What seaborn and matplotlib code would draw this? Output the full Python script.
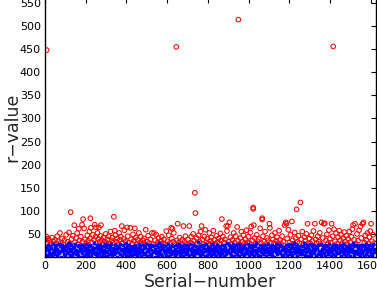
import numpy as np
import matplotlib
matplotlib.use('Agg')
import matplotlib.pyplot as plt
import seaborn as sns

# blue series: one r-value read for every 3rd serial number
blue_value = [
    12, 5, 22, 18, 3, 27, 9, 15, 24, 7, 19, 2, 28, 11, 16, 6, 21, 13, 25, 4, 17, 10, 29, 8, 14, 23, 1, 20, 26, 12,
    18, 6, 24, 3, 15, 27, 9, 21, 11, 30, 5, 17, 13, 25, 2, 19, 8, 22, 14, 28, 7, 16, 10, 23, 4, 26, 12, 20, 1, 18,
    9, 25, 14, 3, 21, 16, 29, 7, 12, 19, 5, 24, 10, 27, 15, 2, 22, 8, 18, 13, 31, 6, 20, 11, 26, 4, 17, 23, 9, 14,
    27, 3, 19, 12, 8, 24, 16, 5, 29, 21, 10, 14, 2, 25, 18, 7, 22, 13, 28, 4, 11, 20, 15, 6, 26, 9, 17, 23, 1, 19,
    10, 22, 6, 28, 15, 3, 18, 25, 12, 8, 20, 14, 30, 5, 24, 11, 17, 2, 27, 9, 21, 16, 4, 23, 13, 19, 7, 26, 11, 15,
    4, 20, 13, 29, 8, 17, 24, 2, 15, 11, 26, 6, 19, 22, 9, 28, 14, 3, 18, 12, 25, 7, 21, 16, 5, 27, 10, 23, 14, 1,
    17, 8, 25, 13, 4, 21, 30, 10, 16, 6, 23, 19, 2, 27, 12, 15, 9, 24, 5, 20, 14, 28, 11, 3, 18, 22, 7, 26, 13, 9,
    23, 12, 2, 18, 27, 7, 14, 21, 10, 29, 5, 16, 24, 8, 19, 13, 3, 26, 11, 20, 6, 25, 15, 9, 22, 17, 4, 28, 12, 16,
    6, 19, 26, 11, 3, 24, 15, 8, 21, 13, 32, 9, 17, 4, 23, 14, 27, 7, 20, 10, 25, 2, 18, 12, 29, 5, 16, 22, 8, 13,
    21, 4, 15, 28, 10, 18, 6, 24, 13, 2, 20, 16, 26, 8, 11, 23, 5, 19, 14, 27, 9, 17, 3, 25, 12, 22, 7, 30, 15, 10,
    14, 26, 8, 19, 23, 5, 12, 29, 17, 3, 22, 10, 15, 25, 6, 20, 13, 28, 2, 18, 11, 24, 16, 7, 21, 4, 27, 9, 19, 12,
    8, 17, 28, 4, 21, 13, 25, 10, 6, 19, 27, 14, 2, 23, 16, 9, 30, 12, 5, 20, 15, 26, 3, 18, 11, 24, 7, 22, 13, 17,
    25, 11, 3, 20, 16, 29, 7, 13, 22, 9, 18, 4, 26, 14, 21, 1, 17, 24, 10, 28, 6, 15, 19, 12, 27, 8, 23, 5, 16, 20,
    3, 22, 14, 9, 27, 18, 5, 24, 12, 16, 28, 7, 20, 11, 25, 4, 19, 13, 31, 8, 22, 15, 2, 26, 10, 17, 21, 6, 14, 24,
    16, 7, 23, 12, 30, 4, 19, 10, 26, 14, 2, 21, 17, 8, 28, 13, 5, 24, 11, 18, 25, 9, 15, 3, 22, 20, 6, 27, 12, 10,
    11, 28, 5, 17, 13, 23, 9, 20, 3, 26, 15, 12, 24, 6, 19, 29, 10, 16, 2, 22, 14, 7, 27, 18, 4, 21, 13, 25, 8, 19,
    20, 9, 16, 26, 2, 14, 22, 11, 28, 6, 18, 13, 24, 4, 21, 15, 8, 27, 12, 3, 19, 25, 10, 17, 30, 5, 23, 14, 9, 26,
    13, 24, 7, 19, 11, 27, 4, 16, 21, 9, 25, 14, 3, 22, 18, 6, 28, 10, 15, 20, 2, 26, 12, 17, 8, 23, 5, 29, 11, 18,
]
blue_serial = np.arange(len(blue_value)) * 3 + 1

# red series: (serial, r-value)
red_serial = [
    3, 8, 8, 12, 16, 22, 27, 35, 41, 48, 55, 60, 66, 73, 78, 84, 90, 95,
    104, 110, 118, 121, 126, 131, 137, 144, 148, 153, 158, 162, 166, 170, 176, 182, 185, 187, 192, 196,
    203, 208, 212, 218, 221, 223, 225, 231, 236, 240, 244, 248, 250, 254, 258, 262, 265, 269, 272, 275, 279, 284, 288, 293, 298,
    303, 308, 312, 318, 322, 327, 331, 334, 338, 342, 346, 350, 355, 360, 364, 368, 372, 377, 381, 386, 390, 395,
    403, 407, 412, 419, 423, 428, 432, 437, 441, 446, 450, 455, 461, 466, 470, 475, 480, 486, 491, 495,
    502, 507, 512, 518, 525, 530, 536, 541, 546, 552, 558, 563, 569, 574, 580, 585, 590, 596,
    602, 608, 613, 620, 623, 626, 630, 633, 638, 645, 648, 652, 657, 662, 668, 674, 680, 685, 690, 696,
    703, 709, 713, 718, 723, 728, 733, 736, 739, 744, 749, 754, 759, 764, 769, 773, 778, 783, 788, 793, 797,
    802, 807, 812, 817, 822, 827, 832, 837, 842, 847, 852, 857, 862, 866, 869, 874, 879, 884, 890, 894, 898, 903, 906,
    911, 916, 921, 927, 932, 937, 944, 948, 950, 955, 960, 965, 970, 975, 980, 985, 990, 995,
    1000, 1005, 1009, 1013, 1018, 1023, 1023, 1026, 1030, 1035, 1040, 1045, 1050, 1057, 1061, 1067, 1067, 1071, 1076, 1081, 1086, 1091, 1096,
    1103, 1105, 1110, 1115, 1120, 1125, 1130, 1135, 1140, 1145, 1150, 1155, 1160, 1165, 1170, 1177, 1183, 1186, 1190, 1196,
    1201, 1206, 1213, 1217, 1222, 1227, 1232, 1236, 1240, 1245, 1250, 1255, 1259, 1264, 1269, 1274, 1279, 1284, 1290, 1294,
    1299, 1304, 1309, 1314, 1319, 1326, 1330, 1335, 1340, 1345, 1350, 1355, 1359, 1365, 1370, 1375, 1380, 1385, 1390, 1395,
    1400, 1404, 1408, 1413, 1416, 1420, 1425, 1430, 1435, 1440, 1445, 1450, 1455, 1460, 1465, 1470, 1475, 1480, 1485, 1490, 1495,
    1500, 1505, 1510, 1514, 1519, 1523, 1528, 1533, 1538, 1543, 1550, 1554, 1560, 1565, 1569, 1574, 1579, 1584, 1589, 1594, 1598, 1602, 1607, 1612, 1617,
]
red_value = [
    38, 44, 448, 31, 40, 35, 30, 42, 33, 37, 29, 45, 34, 52, 31, 40, 27, 36,
    48, 33, 53, 29, 97, 39, 46, 69, 32, 41, 52, 28, 61, 36, 44, 70, 33, 82, 62, 38,
    29, 47, 35, 55, 40, 84, 63, 31, 48, 37, 70, 44, 64, 30, 52, 39, 64, 33, 46, 69, 36, 28, 42, 34, 50,
    30, 38, 45, 29, 55, 36, 42, 31, 87, 57, 47, 33, 40, 28, 52, 37, 44, 67, 30, 39, 58, 34,
    64, 45, 31, 63, 38, 29, 49, 35, 62, 42, 27, 37, 52, 31, 44, 29, 36, 40, 28, 59,
    33, 46, 30, 38, 52, 27, 52, 36, 48, 31, 41, 28, 35, 44, 30, 38, 27, 56,
    34, 47, 30, 63, 40, 61, 33, 52, 28, 455, 36, 72, 31, 42, 29, 37, 67, 33, 45, 28,
    38, 67, 31, 44, 29, 50, 35, 139, 95, 41, 30, 47, 33, 55, 67, 38, 28, 44, 59, 32, 40,
    29, 52, 35, 42, 30, 57, 37, 28, 46, 33, 40, 29, 51, 36, 82, 44, 31, 38, 67, 56, 67, 33, 75,
    43, 29, 37, 52, 31, 45, 65, 35, 514, 28, 41, 55, 33, 47, 29, 38, 58, 32,
    44, 30, 53, 66, 36, 107, 104, 69, 41, 29, 48, 34, 39, 62, 30, 84, 81, 45, 33, 55, 28, 41, 36,
    72, 63, 31, 47, 38, 29, 52, 35, 43, 30, 57, 37, 28, 45, 33, 69, 75, 72, 40, 59,
    31, 48, 77, 36, 29, 53, 41, 103, 33, 46, 30, 118, 38, 55, 28, 43, 35, 50, 72, 31,
    40, 29, 47, 34, 56, 72, 38, 30, 45, 33, 52, 28, 75, 41, 72, 73, 36, 49, 30, 58,
    39, 31, 72, 45, 456, 60, 34, 52, 29, 43, 57, 36, 48, 30, 41, 54, 33, 46, 28, 39, 55,
    32, 44, 60, 69, 37, 72, 29, 50, 35, 58, 66, 41, 72, 75, 31, 47, 36, 52, 29, 43, 56, 72, 34, 48, 30,
]

x_ticks = [0, 200, 400, 600, 800, 1000, 1200, 1400, 1600]
y_ticks = [50, 100, 150, 200, 250, 300, 350, 400, 450, 500, 550]

sns.set_style('white')
plt.rcParams['font.family'] = ['DejaVu Sans']

fig = plt.figure(figsize=(3.77, 2.96), dpi=100)
ax = fig.add_axes([0.1194, 0.1334, 0.8767, 0.872])

sns.scatterplot(x=red_serial, y=red_value, ax=ax, marker='o', s=11,
                color='red', facecolor='none', edgecolor='red', linewidth=0.75)
sns.scatterplot(x=blue_serial, y=blue_value, ax=ax, marker='o', s=8,
                color='blue', linewidth=0)

ax.set_xlim(0, 1624)
ax.set_ylim(1, 560)
ax.set_xticks(x_ticks)
ax.set_yticks(y_ticks)
ax.tick_params(direction='in', length=3.5, width=0.8, labelsize=8,
               top=True, right=True, colors='black', pad=3)
for sp in ax.spines.values():
    sp.set_visible(True)
    sp.set_color('black')
    sp.set_linewidth(1.0)

ax.set_xlabel('Serial\u2212number', fontsize=12.5, labelpad=1.5)
ax.set_ylabel('r\u2212value', fontsize=12.5, labelpad=-1)

fig.savefig('out.png', dpi=100)
plt.close(fig)
